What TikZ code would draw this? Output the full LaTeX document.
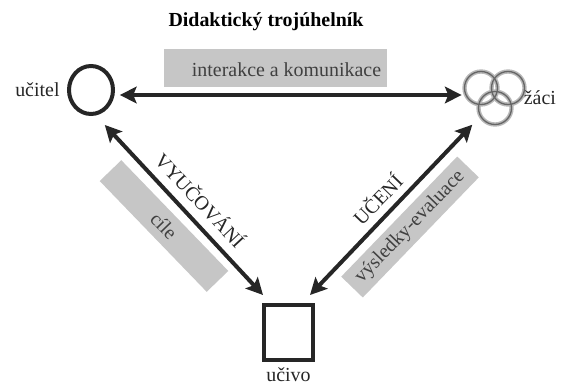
\documentclass[tikz,border=0pt]{standalone}
\usepackage{fontspec}
\setmainfont{Liberation Serif}
\usetikzlibrary{arrows.meta,positioning,shapes.geometric}
\begin{document}
\begin{tikzpicture}[x=0.03cm,y=-0.03cm,
  lbl/.style={font=\fontsize{17}{20}\selectfont,text=black!85},
  greybox/.style={fill=gray!45,inner sep=0pt,text=black!75},
  thick line/.style={draw=black!85,line width=0.12cm},
  arr/.style={thick line,{Stealth[length=0.5cm,width=0.5cm,inset=0.1cm]}-{Stealth[length=0.5cm,width=0.5cm,inset=0.1cm]}},
  ring/.style={line width=0.13cm,draw=gray!55},
  ringcore/.style={line width=0.04cm,draw=black!60}]
\useasboundingbox (0,0) rectangle (563,390);
\coordinate (U) at (91,90);
\coordinate (Z) at (494.5,98);
\coordinate (V) at (288.5,332.5);
\node[lbl,font=\fontsize{17}{20}\selectfont\bfseries,text=black] (title) at (266,22) {Didaktický trojúhelník};
\node[greybox,minimum width=6.69cm,minimum height=1.14cm] (ibox) at (275.5,68) {};
\node[lbl,text=black!75] (itext) at ([shift={(11,2)}]ibox.center) {interakce a komunikace};
\node[thick line,ellipse,minimum width=1.32cm,minimum height=1.44cm,inner sep=0pt] (ucitel) at (U) {};
\node[thick line,minimum width=1.47cm,minimum height=1.65cm,inner sep=0pt] (ucivo) at (V) {};
\node[minimum width=1.8cm,minimum height=1.59cm,inner sep=0pt] (zaci) at (Z) {};
\foreach \d in {(-13.5,-10),(13.5,-10),(0.5,10)}
  \draw[ring] ([shift={\d}]zaci.center) circle[radius=0.495cm];
\foreach \d in {(-13.5,-10),(13.5,-10),(0.5,10)}
  \draw[ringcore] ([shift={\d}]zaci.center) circle[radius=0.495cm];
\node[lbl,left=0.1cm of ucitel] (tucitel) {učitel};
\node[lbl,right=-0.15cm of zaci] (tzaci) {žáci};
\node[lbl,below=0.05cm of ucivo] (tucivo) {učivo};
\draw[arr,shorten <=0.16cm,shorten >=0.08cm] (ucitel.-12) -- (ucitel.-12 -| zaci.west);
\draw[arr,shorten <=0.39cm] (ucitel.-79) -- ([shift={(1,-8)}]ucivo.north west);
\draw[arr] ([shift={(-5,-8)}]ucivo.north east) -- ([shift={(8,0)}]zaci.south west);
\node[lbl,greybox,rotate=-46,minimum width=4.62cm,minimum height=0.9cm] (cile) at (164,226) {cíle};
\node[lbl,greybox,rotate=46,minimum width=5.01cm,minimum height=0.9cm] (vysl) at (410,227) {výsledky-evaluace};
\node[lbl,rotate=-47] (vyuc) at (201,200) {VYUČOVÁNÍ};
\node[lbl,rotate=46] (uceni) at (377,199) {UČENÍ};
\end{tikzpicture}
\end{document}
